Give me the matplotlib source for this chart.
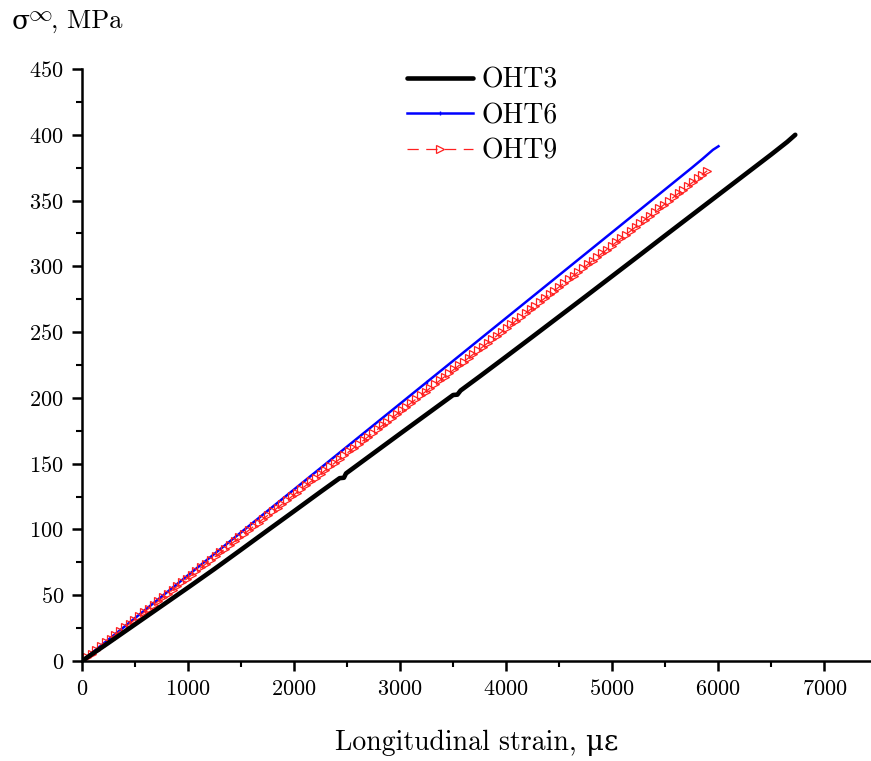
import matplotlib
matplotlib.use("Agg")
import matplotlib.pyplot as plt
from matplotlib.ticker import MultipleLocator

plt.rcParams['font.family'] = 'serif'
plt.rcParams['font.serif'] = ['cmr10', 'DejaVu Serif']
plt.rcParams['mathtext.fontset'] = 'cm'
plt.rcParams['axes.unicode_minus'] = False
plt.rcParams['axes.formatter.use_mathtext'] = True

# ---- data ----
oht3_strain = [0, 250, 500, 750, 1000, 1250, 1500, 1750, 2000, 2250, 2430, 2470, 2490,
               2750, 3000, 3250, 3500, 3540, 3570, 3750, 4000, 4250, 4500, 4750, 5000,
               5250, 5500, 5750, 6000, 6250, 6500, 6650, 6726]
oht3_stress = [0, 13.8, 27.8, 41.8, 55.8, 70.0, 84.6, 99.3, 113.9, 128.6, 139.0, 139.3, 142.6,
               158.0, 172.8, 187.5, 202.2, 202.5, 205.6, 216.3, 231.4, 246.6, 261.9, 277.2, 292.6,
               308.0, 323.5, 338.9, 354.3, 369.7, 385.1, 394.6, 400.0]

oht6_strain = [0, 250, 500, 750, 1000, 1250, 1500, 1750, 2000, 2250, 2500, 2750, 3000,
               3250, 3500, 3750, 4000, 4250, 4500, 4750, 5000, 5250, 5500, 5750, 5850,
               5950, 6002]
oht6_stress = [0, 16.3, 32.6, 48.9, 65.2, 81.5, 97.8, 114.1, 130.4, 146.7, 163.0, 179.3, 195.6,
               211.9, 228.2, 244.5, 260.8, 277.1, 293.4, 309.7, 326.0, 342.3, 358.6, 374.9, 381.6,
               388.6, 391.3]

oht9_strain = [0, 45, 90, 135, 180, 225, 270, 315, 360, 405, 450, 495, 540, 585, 630, 675,
               720, 765, 810, 855, 900, 945, 990, 1035, 1080, 1125, 1170, 1215, 1260, 1305,
               1350, 1395, 1440, 1485, 1530, 1575, 1620, 1665, 1710, 1755, 1800, 1845, 1890,
               1935, 1980, 2025, 2070, 2115, 2160, 2205, 2250, 2295, 2340, 2385, 2430, 2475,
               2520, 2565, 2610, 2655, 2700, 2745, 2790, 2835, 2880, 2925, 2970, 3015, 3060,
               3105, 3150, 3195, 3240, 3285, 3330, 3375, 3420, 3465, 3510, 3555, 3600, 3645,
               3690, 3735, 3780, 3825, 3870, 3915, 3960, 4005, 4050, 4095, 4140, 4185, 4230,
               4275, 4320, 4365, 4410, 4455, 4500, 4545, 4590, 4635, 4680, 4725, 4770, 4815,
               4860, 4905, 4950, 4995, 5040, 5085, 5130, 5175, 5220, 5265, 5310, 5355, 5400,
               5445, 5490, 5535, 5580, 5625, 5670, 5715, 5760, 5805, 5850, 5895]
oht9_stress = [0, 2.8, 5.7, 8.5, 11.4, 14.2, 17.1, 19.9, 22.8, 25.6, 28.4, 31.3, 34.1, 37.0,
               39.8, 42.7, 45.5, 48.3, 51.2, 54.0, 56.9, 59.7, 62.6, 65.4, 68.3, 71.1, 73.9,
               76.8, 79.6, 82.5, 85.3, 88.2, 91.0, 93.9, 96.7, 99.5, 102.4, 105.2, 108.1, 110.9,
               113.8, 116.6, 119.4, 122.3, 125.1, 128.0, 130.8, 133.7, 136.5, 139.4, 142.2,
               145.0, 147.9, 150.7, 153.6, 156.4, 159.3, 162.1, 165.0, 167.8, 170.6, 173.5,
               176.3, 179.2, 182.0, 184.9, 187.7, 190.5, 193.4, 196.2, 199.1, 201.9, 204.8,
               207.6, 210.5, 213.3, 216.1, 219.0, 221.8, 224.7, 227.5, 230.4, 233.2, 236.1,
               238.9, 241.7, 244.6, 247.4, 250.3, 253.1, 256.0, 258.8, 261.6, 264.5, 267.3,
               270.2, 273.0, 275.9, 278.7, 281.6, 284.4, 287.2, 290.1, 292.9, 295.8, 298.6,
               301.5, 304.3, 307.2, 310.0, 312.8, 315.7, 318.5, 321.4, 324.2, 327.1, 329.9,
               332.7, 335.6, 338.4, 341.3, 344.1, 347.0, 349.8, 352.7, 355.5, 358.3, 361.2,
               364.0, 366.9, 369.7, 372.6]

x_ticks = [0, 1000, 2000, 3000, 4000, 5000, 6000, 7000]
y_ticks = [0, 50, 100, 150, 200, 250, 300, 350, 400, 450]

fig = plt.figure(figsize=(8.71, 7.61), dpi=100)
ax = fig.add_axes([0.0941, 0.1314, 0.9059, 0.7779])

ax.plot(oht3_strain, oht3_stress, color='black', lw=3.3, solid_capstyle='round',
        label='OHT3', zorder=3)
ax.plot(oht6_strain, oht6_stress, color='#0000ff', lw=1.8, marker='|', markersize=3,
        markevery=[len(oht6_strain) // 2], label='OHT6', zorder=2)
ax.plot(oht9_strain, oht9_stress, color='#ff2020', lw=0.9, ls=(0, (9, 6)), marker='>',
        markersize=6, markerfacecolor='none', markeredgewidth=0.9, label='OHT9', zorder=2)

ax.set_xlim(0, 7440)
ax.set_ylim(0, 450)
ax.set_xticks(x_ticks)
ax.set_yticks(y_ticks)
ax.xaxis.set_minor_locator(MultipleLocator(500))
ax.yaxis.set_minor_locator(MultipleLocator(25))

for s in ['top', 'right']:
    ax.spines[s].set_visible(False)
for s in ['left', 'bottom']:
    ax.spines[s].set_linewidth(1.8)

ax.tick_params(axis='both', which='major', direction='out', length=7, width=1.8,
               labelsize=16, pad=6)
ax.tick_params(axis='both', which='minor', direction='out', length=4, width=1.5)

ax.set_xlabel('Longitudinal strain, με', fontsize=20, labelpad=22,
              family=['cmr10', 'DejaVu Serif'])
fig.text(0.013, 0.972, 'σ', fontsize=19, ha='left', va='center',
         family=['DejaVu Serif'])
fig.text(0.032, 0.982, r'$\infty$', fontsize=17, ha='left', va='center')
fig.text(0.059, 0.972, ', MPa', fontsize=19, ha='left', va='center')

leg = ax.legend(loc='upper left', bbox_to_anchor=(0.38, 1.045), frameon=False,
                fontsize=20, handlelength=2.4, handletextpad=0.3, labelspacing=0.33,
                numpoints=1)

fig.savefig('out.png', dpi=100)
